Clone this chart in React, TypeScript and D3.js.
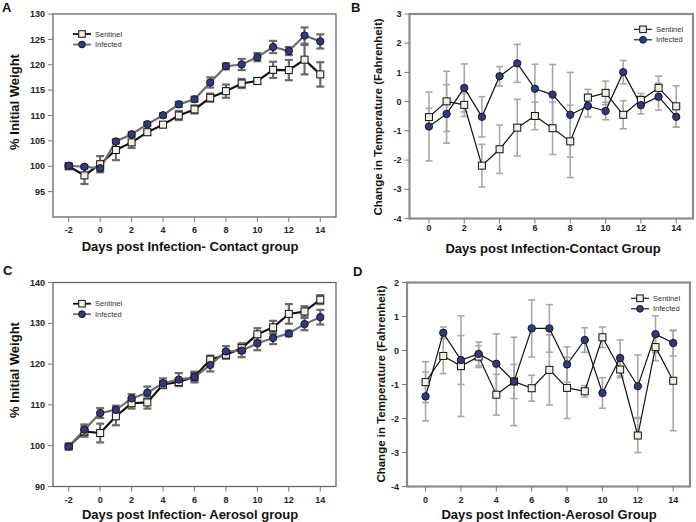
import React from "react";
import * as d3 from "d3";

// ---------- DATA ----------
const daysAC = [-2, -1, 0, 1, 2, 3, 4, 5, 6, 7, 8, 9, 10, 11, 12, 13, 14];
const daysBD = [0, 1, 2, 3, 4, 5, 6, 7, 8, 9, 10, 11, 12, 13, 14];

const aSentinel = [100.0, 98.2, 100.4, 103.2, 104.7, 106.7, 108.2, 110.0, 111.2, 113.5, 114.8, 116.3, 116.8, 119.0, 118.95, 121.0, 118.1];
const aSentinelErr = [0.2, 1.7, 1.6, 2.0, 1.1, 0.5, 0.5, 0.9, 0.8, 0.8, 1.3, 0.9, 0.6, 1.6, 2.0, 2.9, 2.4];
const aInfected = [100.1, 99.9, 99.6, 104.9, 106.3, 108.3, 110.05, 112.2, 113.2, 116.5, 119.7, 120.05, 121.5, 123.5, 122.7, 125.75, 124.6];
const aInfectedErr = [0.2, 0.3, 0.5, 0.4, 0.4, 0.4, 0.4, 0.5, 0.5, 1.0, 0.6, 1.1, 0.8, 1.2, 0.8, 1.6, 1.4];

const bSentinel = [-0.53, 0.01, -0.11, -2.19, -1.63, -0.89, -0.49, -0.91, -1.36, 0.14, 0.3, -0.45, 0.06, 0.47, -0.16];
const bSentinelErr = [0.3, 1.03, 0.4, 0.73, 0.83, 0.97, 0.47, 0.9, 1.24, 0.28, 0.4, 0.48, 0.22, 0.4, 0.7];
const bInfected = [-0.85, -0.42, 0.47, -0.52, 0.87, 1.31, 0.44, 0.24, -0.45, -0.15, -0.32, 1.01, -0.12, 0.17, -0.52];
const bInfectedErr = [1.18, 1.0, 0.82, 0.69, 0.33, 0.65, 0.84, 1.03, 1.45, 0.37, 0.3, 0.4, 0.3, 0.46, 0.35];

const cSentinel = [99.8, 103.5, 103.1, 107.2, 110.4, 110.6, 115.0, 115.6, 116.9, 121.1, 122.3, 123.9, 127.3, 129.0, 132.3, 132.9, 135.8];
const cSentinelErr = [0.3, 1.3, 2.3, 2.2, 1.3, 1.5, 0.8, 0.8, 1.2, 1.0, 1.0, 1.2, 1.5, 1.6, 2.4, 1.3, 1.1];
const cInfected = [99.8, 103.9, 108.0, 108.8, 111.6, 113.0, 115.3, 116.2, 116.8, 119.8, 123.1, 123.3, 125.1, 126.4, 127.5, 129.8, 131.5];
const cInfectedErr = [0.3, 1.3, 1.2, 1.0, 1.0, 1.5, 1.2, 1.6, 1.3, 1.6, 1.3, 1.6, 1.7, 1.5, 0.7, 1.5, 1.8];

const dSentinel = [-0.93, -0.16, -0.46, -0.18, -1.3, -0.91, -1.11, -0.57, -1.1, -1.2, 0.39, -0.56, -2.5, 0.1, -0.89];
const dSentinelErr = [0.6, 0.52, 1.48, 0.32, 0.6, 1.3, 0.38, 1.03, 0.9, 0.17, 0.3, 0.24, 0.5, 0.4, 1.47];
const dInfected = [-1.35, 0.52, -0.28, -0.1, -0.39, -0.91, 0.65, 0.65, -0.41, 0.31, -1.25, -0.22, -1.05, 0.48, 0.22];
const dInfectedErr = [0.72, 0.17, 0.72, 0.35, 0.88, 0.5, 0.84, 0.7, 0.52, 0.36, 0.45, 0.53, 0.92, 0.54, 0.38];

const weightTicksA = [95, 100, 105, 110, 115, 120, 125, 130];
const weightTicksC = [90, 100, 110, 120, 130, 140];
const tempTicksB = [-4, -3, -2, -1, 0, 1, 2, 3];
const tempTicksD = [-4, -3, -2, -1, 0, 1, 2];
const xTicksAC = [-2, 0, 2, 4, 6, 8, 10, 12, 14];
const xTicksBD = [0, 2, 4, 6, 8, 10, 12, 14];

const seriesNames = ["Sentinel", "Infected"];

// ---------- STYLE ----------
const FONT = "'Liberation Sans', Arial, sans-serif";
const SQ_FILL = "#f3f0e3";
const CIRC_FILL = "#2d3c80";
const DARK = "#111";

type PanelProps = {
  letter: string;
  letterPos: [number, number];
  frame: { x0: number; x1: number; y0: number; y1: number };
  xDomain: [number, number];
  yDomain: [number, number];
  xTicks: number[];
  yTicks: number[];
  days: number[];
  sentinel: number[];
  sentinelErr: number[];
  infected: number[];
  infectedErr: number[];
  heavy: boolean;
  xTitle: string;
  xTitlePos: [number, number];
  yTitle: string;
  yTitlePos: [number, number];
  yTitleSize: number;
  xTickLabelY: number;
  legendPos: [number, number];
};

function Panel(p: PanelProps) {
  const x = d3.scaleLinear().domain(p.xDomain).range([p.frame.x0, p.frame.x1]);
  const y = d3.scaleLinear().domain(p.yDomain).range([p.frame.y1, p.frame.y0]);
  const line = d3
    .line<number>()
    .x((_, i) => x(p.days[i]))
    .y((v) => y(v));

  const frameColor = p.heavy ? "#666" : "#8a8a8a";
  const frameWidth = p.heavy ? 1.3 : 2.2;
  const errColor = p.heavy ? "#6a6a6a" : "#a8a8a8";
  const errWidth = p.heavy ? 2.2 : 1.6;
  const capW = p.heavy ? 4 : 3.5;
  const sentLineColor = DARK;
  const infLineColor = p.heavy ? "#6e6e6e" : DARK;
  const lineWidth = p.heavy ? 2.2 : 1.2;
  const sq = 7;
  const r = 3.7;

  const errBars = (vals: number[], errs: number[], key: string) =>
    vals.map((v, i) => {
      const cx = x(p.days[i]);
      const yt = y(v + errs[i]);
      const yb = y(v - errs[i]);
      return (
        <g key={key + i} stroke={errColor} strokeWidth={errWidth}>
          <line x1={cx} x2={cx} y1={yt} y2={yb} />
          <line x1={cx - capW} x2={cx + capW} y1={yt} y2={yt} />
          <line x1={cx - capW} x2={cx + capW} y1={yb} y2={yb} />
        </g>
      );
    });

  const [lx, ly] = p.legendPos;
  const legendLineW = p.heavy ? 1.8 : 1.1;

  return (
    <g fontFamily={FONT}>
      <text x={p.letterPos[0]} y={p.letterPos[1]} fontSize={13} fontWeight="bold" fill="#111">
        {p.letter}
      </text>
      {/* frame */}
      <rect
        x={p.frame.x0}
        y={p.frame.y0}
        width={p.frame.x1 - p.frame.x0}
        height={p.frame.y1 - p.frame.y0}
        fill="none"
        stroke={frameColor}
        strokeWidth={frameWidth}
      />
      {/* y ticks */}
      {p.yTicks.map((t) => (
        <g key={"yt" + t}>
          <line x1={p.frame.x0 - 5} x2={p.frame.x0} y1={y(t)} y2={y(t)} stroke="#777" strokeWidth={1} />
          <text x={p.frame.x0 - 8} y={y(t)} dy="0.35em" textAnchor="end" fontSize={9} fontWeight="bold" fill="#222">
            {t}
          </text>
        </g>
      ))}
      {/* x ticks */}
      {p.xTicks.map((t) => (
        <g key={"xt" + t}>
          <line x1={x(t)} x2={x(t)} y1={p.frame.y1} y2={p.frame.y1 + 5} stroke="#777" strokeWidth={1} />
          <text x={x(t)} y={p.xTickLabelY} dy="0.35em" textAnchor="middle" fontSize={9} fontWeight="bold" fill="#222">
            {t}
          </text>
        </g>
      ))}
      {/* titles */}
      <text x={p.xTitlePos[0]} y={p.xTitlePos[1]} textAnchor="middle" fontSize={13} fontWeight="bold" fill="#111">
        {p.xTitle}
      </text>
      <text
        transform={`translate(${p.yTitlePos[0]},${p.yTitlePos[1]}) rotate(-90)`}
        textAnchor="middle"
        dy="0.35em"
        fontSize={p.yTitleSize}
        fontWeight="bold"
        fill="#111"
      >
        {p.yTitle}
      </text>
      {/* error bars */}
      {errBars(p.sentinel, p.sentinelErr, "se")}
      {errBars(p.infected, p.infectedErr, "ie")}
      {/* lines */}
      <path d={line(p.sentinel) || ""} fill="none" stroke={sentLineColor} strokeWidth={lineWidth} />
      <path d={line(p.infected) || ""} fill="none" stroke={infLineColor} strokeWidth={lineWidth} />
      {/* markers */}
      {p.sentinel.map((v, i) => (
        <rect
          key={"sm" + i}
          x={x(p.days[i]) - sq / 2}
          y={y(v) - sq / 2}
          width={sq}
          height={sq}
          fill={SQ_FILL}
          stroke={DARK}
          strokeWidth={1}
        />
      ))}
      {p.infected.map((v, i) => (
        <circle key={"im" + i} cx={x(p.days[i])} cy={y(v)} r={r} fill={CIRC_FILL} stroke={DARK} strokeWidth={0.9} />
      ))}
      {/* legend */}
      <g>
        <line x1={lx} x2={lx + 18} y1={ly} y2={ly} stroke={sentLineColor} strokeWidth={legendLineW} />
        <rect x={lx + 9 - 3.3} y={ly - 3.3} width={6.6} height={6.6} fill={SQ_FILL} stroke={DARK} strokeWidth={1} />
        <text x={lx + 22} y={ly} dy="0.35em" fontSize={7.5} fill="#333">
          {seriesNames[0]}
        </text>
        <line x1={lx} x2={lx + 18} y1={ly + 10.5} y2={ly + 10.5} stroke={infLineColor} strokeWidth={legendLineW} />
        <circle cx={lx + 9} cy={ly + 10.5} r={3.4} fill={CIRC_FILL} stroke={DARK} strokeWidth={0.9} />
        <text x={lx + 22} y={ly + 10.5} dy="0.35em" fontSize={7.5} fill="#333">
          {seriesNames[1]}
        </text>
      </g>
    </g>
  );
}

export default function App() {
  return (
    <svg
      width={696}
      height={522}
      style={{ position: "absolute", left: 0, top: 0, background: "#fff" }}
    >
      <rect width={696} height={522} fill="#fff" />
      <Panel
        letter="A"
        letterPos={[2, 12]}
        frame={{ x0: 53, x1: 336, y0: 14, y1: 217 }}
        xDomain={[-3, 15]}
        yDomain={[90, 130]}
        xTicks={xTicksAC}
        yTicks={weightTicksA}
        days={daysAC}
        sentinel={aSentinel}
        sentinelErr={aSentinelErr}
        infected={aInfected}
        infectedErr={aInfectedErr}
        heavy={true}
        xTitle="Days post Infection- Contact group"
        xTitlePos={[190, 251]}
        yTitle="% Initial Weight"
        yTitlePos={[14, 102]}
        yTitleSize={13}
        xTickLabelY={230}
        legendPos={[73, 34]}
      />
      <Panel
        letter="B"
        letterPos={[351, 12]}
        frame={{ x0: 409.5, x1: 693, y0: 14, y1: 218.5 }}
        xDomain={[-1.1, 14.95]}
        yDomain={[-4, 3]}
        xTicks={xTicksBD}
        yTicks={tempTicksB}
        days={daysBD}
        sentinel={bSentinel}
        sentinelErr={bSentinelErr}
        infected={bInfected}
        infectedErr={bInfectedErr}
        heavy={false}
        xTitle="Days post Infection-Contact Group"
        xTitlePos={[553, 253]}
        yTitle="Change in Temperature (Fahrenheit)"
        yTitlePos={[378, 117]}
        yTitleSize={11.5}
        xTickLabelY={228}
        legendPos={[634, 29.3]}
      />
      <Panel
        letter="C"
        letterPos={[3, 275]}
        frame={{ x0: 53, x1: 336, y0: 282.5, y1: 486.5 }}
        xDomain={[-3, 15]}
        yDomain={[90, 140]}
        xTicks={xTicksAC}
        yTicks={weightTicksC}
        days={daysAC}
        sentinel={cSentinel}
        sentinelErr={cSentinelErr}
        infected={cInfected}
        infectedErr={cInfectedErr}
        heavy={true}
        xTitle="Days post Infection- Aerosol group"
        xTitlePos={[190, 519]}
        yTitle="% Initial Weight"
        yTitlePos={[14, 370]}
        yTitleSize={13}
        xTickLabelY={500}
        legendPos={[73, 303.7]}
      />
      <Panel
        letter="D"
        letterPos={[353, 276]}
        frame={{ x0: 407, x1: 690, y0: 282.5, y1: 486.5 }}
        xDomain={[-1.05, 14.95]}
        yDomain={[-4, 2]}
        xTicks={xTicksBD}
        yTicks={tempTicksD}
        days={daysBD}
        sentinel={dSentinel}
        sentinelErr={dSentinelErr}
        infected={dInfected}
        infectedErr={dInfectedErr}
        heavy={false}
        xTitle="Days post Infection-Aerosol Group"
        xTitlePos={[549, 519]}
        yTitle="Change in Temperature (Fahrenheit)"
        yTitlePos={[381, 384]}
        yTitleSize={11.5}
        xTickLabelY={500}
        legendPos={[631, 298.3]}
      />
    </svg>
  );
}
